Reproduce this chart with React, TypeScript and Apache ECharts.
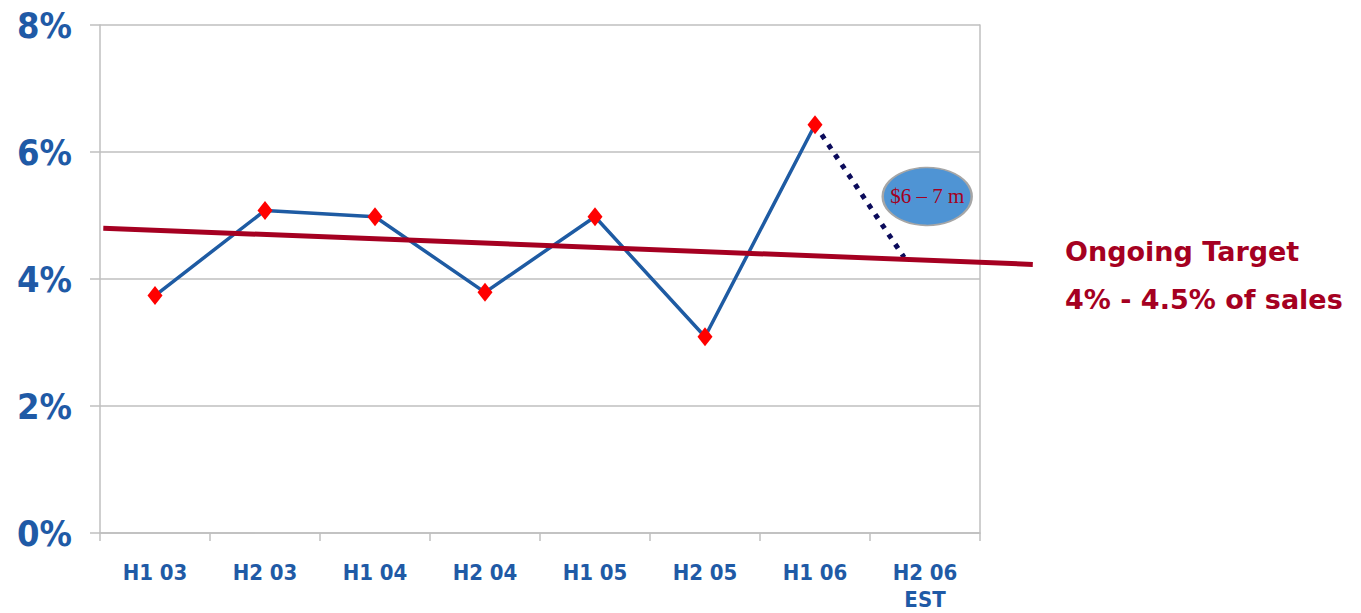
import React, { useEffect, useRef } from "react";
import * as echarts from "echarts";

// Half-year periods on the category axis
const periods = ["H1 03", "H2 03", "H1 04", "H2 04", "H1 05", "H2 05", "H1 06", "H2 06\nEST"];
// Actual share of sales (%) per period
const actualPct = [3.74, 5.08, 4.98, 3.79, 4.98, 3.09, 6.43];
// Estimate for H2 06: from the last actual point down to the target line (position on the period scale, %)
const estimatePoints = [
  [6, 6.43],
  [6.81, 4.34],
];
// Ongoing target trend line (position on the period scale, %); it runs past the plot edges
const targetPoints = [
  [-0.47, 4.8],
  [7.98, 4.23],
];
// Bubble with the estimated amount
const estimateBubble = [[7.02, 5.3]];
const estimateLabel = "$6 – 7 m";
// Percent ticks
const yTicks = { min: 0, max: 8, interval: 2 };
const targetText = ["Ongoing Target", "4% - 4.5% of sales"];

const BLUE = "#1F5AA6";
const DARK_RED = "#A50021";
const GRID_GRAY = "#BFBFBF";

export default function App() {
  const ref = useRef<HTMLDivElement>(null);

  useEffect(() => {
    if (!ref.current) return;
    const chart = echarts.init(ref.current, null, { renderer: "svg" });
    const textStyle = {
      fill: DARK_RED,
      fontSize: 27,
      fontWeight: "bold",
      fontFamily: "'DejaVu Sans', sans-serif",
      verticalAlign: "middle",
    };
    chart.setOption({
      animation: false,
      backgroundColor: "#ffffff",
      grid: { left: 100, right: 381, top: 25, bottom: 79 },
      xAxis: [
        {
          type: "category",
          data: periods,
          boundaryGap: true,
          axisLine: { lineStyle: { color: GRID_GRAY, width: 1.5 } },
          axisTick: { show: true, length: 8, alignWithLabel: false, lineStyle: { color: GRID_GRAY, width: 1.5 } },
          axisLabel: {
            interval: 0,
            margin: 26,
            color: BLUE,
            fontSize: 22,
            fontWeight: "bold",
            lineHeight: 27,
            fontFamily: "'DejaVu Sans Condensed', sans-serif",
          },
          splitLine: { show: false },
        },
        {
          type: "value",
          min: -0.5,
          max: 7.5,
          show: false,
        },
      ],
      yAxis: [
        {
          type: "value",
          min: yTicks.min,
          max: yTicks.max,
          interval: yTicks.interval,
          axisLine: { show: true, onZero: false, lineStyle: { color: GRID_GRAY, width: 1.5 } },
          axisTick: { show: true, length: 10, lineStyle: { color: GRID_GRAY, width: 1.5 } },
          axisLabel: {
            formatter: "{value}%",
            margin: 28,
            color: BLUE,
            fontSize: 36,
            fontWeight: "bold",
            fontFamily: "'DejaVu Sans Condensed', 'DejaVu Sans', sans-serif",
          },
          splitLine: { show: true, lineStyle: { color: GRID_GRAY, width: 1.5 } },
        },
        {
          type: "value",
          position: "right",
          min: yTicks.min,
          max: yTicks.max,
          interval: yTicks.interval,
          axisLine: { show: true, onZero: false, lineStyle: { color: GRID_GRAY, width: 1.5 } },
          axisTick: { show: false },
          axisLabel: { show: false },
          splitLine: { show: false },
        },
      ],
      series: [
        {
          name: "Estimate",
          type: "line",
          xAxisIndex: 1,
          yAxisIndex: 0,
          data: estimatePoints,
          symbol: "none",
          z: 1,
          lineStyle: { color: "#0B0B5B", width: 5, type: [5, 7], cap: "butt" },
        },
        {
          name: "Actual",
          type: "line",
          xAxisIndex: 0,
          yAxisIndex: 0,
          data: actualPct,
          symbol: "diamond",
          symbolSize: [15, 19],
          z: 3,
          itemStyle: { color: "#FF0000" },
          lineStyle: { color: "#1E5BA3", width: 3.5 },
        },
        {
          name: "Estimate amount",
          type: "scatter",
          xAxisIndex: 1,
          yAxisIndex: 0,
          data: estimateBubble,
          symbol: "circle",
          symbolSize: [89, 58],
          z: 5,
          itemStyle: { color: "#4F94D4", opacity: 1, borderColor: "#A6A6A6", borderWidth: 2 },
          label: {
            show: true,
            position: "inside",
            formatter: estimateLabel,
            color: DARK_RED,
            fontSize: 21,
            fontFamily: "'Liberation Serif', 'DejaVu Serif', serif",
          },
        },
      ],
    });

    // The target line runs past the plot on both sides, so it is placed through the axis scales
    const [p0, p1] = targetPoints.map((p) =>
      chart.convertToPixel({ xAxisIndex: 1, yAxisIndex: 0 }, p)
    );
    chart.setOption({
      graphic: [
        {
          type: "line",
          z: 100,
          shape: { x1: p0[0], y1: p0[1], x2: p1[0], y2: p1[1] },
          style: { stroke: DARK_RED, lineWidth: 5 },
        },
        { type: "text", x: 1065, y: 251, style: { ...textStyle, text: targetText[0] } },
        { type: "text", x: 1065, y: 299, style: { ...textStyle, text: targetText[1] } },
      ],
    });
    return () => chart.dispose();
  }, []);

  return (
    <div
      ref={ref}
      style={{ position: "fixed", left: 0, top: 0, width: 1361, height: 613, background: "#fff" }}
    />
  );
}
